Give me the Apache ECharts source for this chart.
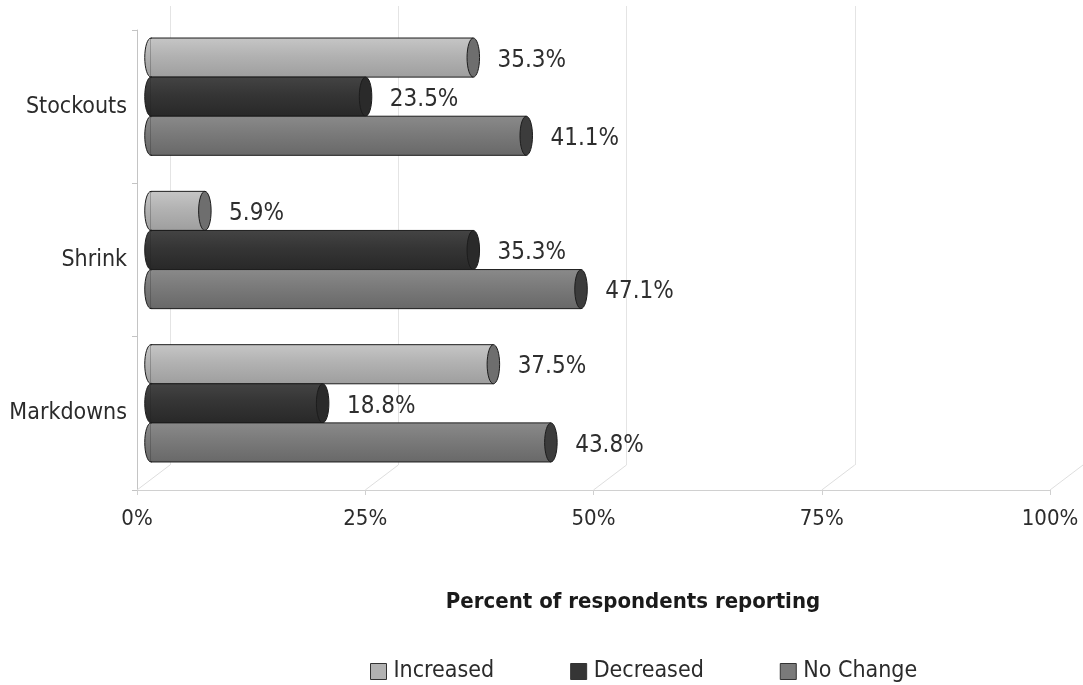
<!DOCTYPE html>
<html>
<head>
<meta charset="utf-8">
<script src="https://cdn.jsdelivr.net/npm/echarts@6/dist/echarts.min.js"></script>
<style>
  html, body { margin: 0; padding: 0; background: #fff; }
  #chart { width: 1083px; height: 685px; }
</style>
</head>
<body>
<div id="chart"></div>
<script>
// Survey categories (top to bottom)
const categories = ['Stockouts', 'Shrink', 'Markdowns'];
// Percent of respondents per answer
const increased = [35.3, 5.9, 37.5];
const decreased = [23.5, 35.3, 18.8];
const noChange = [41.1, 47.1, 43.8];
const seriesNames = ['Increased', 'Decreased', 'No Change'];
// Value axis ticks
const xTicks = [0, 25, 50, 75, 100];

const FONT = '"DejaVu Sans Condensed", "Liberation Sans Narrow", "DejaVu Sans", sans-serif';
const GAP = 0.235;          // share of each category band left empty
const DEPTH = [33, -25];    // floor diagonal, front to back wall

const looks = [
  { top: '#c6c6c6', mid: '#b2b2b2', bot: '#9e9e9e', cap: '#6e6e6e' },
  { top: '#444444', mid: '#353535', bot: '#282828', cap: '#2a2a2a' },
  { top: '#8a8a8a', mid: '#7a7a7a', bot: '#686868', cap: '#3c3c3c' }
];

function cylinder(idx) {
  const look = looks[idx];
  return function (params, api) {
    const v = api.value(0);
    const cat = api.value(1);
    const start = api.coord([0, cat]);
    const end = api.coord([v, cat]);
    const band = api.size([0, 1])[1];
    const h = band * (1 - GAP) / 3;
    const top = start[1] - band * (1 - GAP) / 2 + idx * h;
    const cy = top + h / 2;
    const rx = h * 0.16;
    const fill = new echarts.graphic.LinearGradient(0, 0, 0, 1, [
      { offset: 0, color: look.top },
      { offset: 0.45, color: look.mid },
      { offset: 1, color: look.bot }
    ]);
    const stroke = { stroke: '#1c1c1c', lineWidth: 1 };
    return {
      type: 'group',
      children: [
        { type: 'ellipse', shape: { cx: start[0], cy: cy, rx: rx, ry: h / 2 },
          style: Object.assign({ fill: fill }, stroke) },
        { type: 'rect', shape: { x: start[0], y: top, width: end[0] - start[0], height: h },
          style: Object.assign({ fill: fill }, stroke) },
        { type: 'rect', shape: { x: start[0] - 0.5, y: top + 1, width: 2, height: h - 2 },
          style: { fill: fill } },
        { type: 'ellipse', shape: { cx: end[0], cy: cy, rx: rx, ry: h / 2 },
          style: Object.assign({ fill: look.cap }, stroke) },
        { type: 'text', x: end[0] + rx + 18, y: cy + 3,
          style: { text: v.toFixed(1) + '%', fill: '#2e2e2e', font: '24px ' + FONT,
                   verticalAlign: 'middle', align: 'left' } }
      ]
    };
  };
}

const valueSets = [increased, decreased, noChange];
const barSeries = valueSets.map((vals, i) => ({
  name: seriesNames[i],
  type: 'custom',
  xAxisIndex: 2,
  yAxisIndex: 2,
  encode: { x: 0, y: 1 },
  itemStyle: { color: looks[i].mid, borderColor: '#222', borderWidth: 1 },
  renderItem: cylinder(i),
  data: vals.map((v, c) => [v, c]),
  z: 5 + i
}));

// Floor diagonals from each front tick back to the wall
const floorLines = {
  type: 'custom',
  xAxisIndex: 0,
  yAxisIndex: 0,
  silent: true,
  encode: { x: 0 },
  data: xTicks.map(t => [t, 0]),
  renderItem: function (params, api) {
    const cs = params.coordSys;
    const x = api.coord([api.value(0), 0])[0];
    const y = cs.y + cs.height;
    return {
      type: 'line',
      shape: { x1: x, y1: y, x2: x + DEPTH[0], y2: y + DEPTH[1] },
      style: { stroke: '#dedede', lineWidth: 1 }
    };
  },
  z: 1
};

const option = {
  backgroundColor: '#ffffff',
  animation: false,
  title: {
    text: 'Percent of respondents reporting',
    left: 628, top: 586, textAlign: 'center',
    textStyle: { fontFamily: FONT, fontSize: 22, fontWeight: 'bold', color: '#1a1a1a' }
  },
  legend: {
    data: seriesNames,
    top: 655, left: 365,
    itemWidth: 16, itemHeight: 16, itemGap: 76,
    icon: 'rect',
    itemStyle: { borderColor: '#333', borderWidth: 1 },
    textStyle: { fontFamily: FONT, fontSize: 23, color: '#2b2b2b', padding: [0, 0, 0, 2] }
  },
  grid: [
    { left: 137, top: 30, width: 913, height: 460 },   // front plane
    { left: 170, top: 6, width: 913, height: 459 },    // back wall
    { left: 151, top: 20, width: 913, height: 460 }    // bars
  ],
  xAxis: [
    { type: 'value', gridIndex: 0, min: 0, max: 100, interval: 25,
      axisLine: { show: true, lineStyle: { color: '#d0d0d0' } },
      axisTick: { show: true, length: 5, lineStyle: { color: '#d0d0d0' } },
      splitLine: { show: false },
      axisLabel: { formatter: '{value}%', margin: 18, color: '#2b2b2b',
                   fontFamily: FONT, fontSize: 22 } },
    { type: 'value', gridIndex: 1, min: 0, max: 100, interval: 25,
      axisLine: { show: false }, axisTick: { show: false }, axisLabel: { show: false },
      splitLine: { show: true, lineStyle: { color: '#e4e4e4' } } },
    { type: 'value', gridIndex: 2, min: 0, max: 100, show: false }
  ],
  yAxis: [
    { type: 'category', gridIndex: 0, data: categories, inverse: true,
      axisLine: { show: true, lineStyle: { color: '#c4c4c4' } },
      axisTick: { show: true, length: 5, lineStyle: { color: '#c4c4c4' } },
      axisLabel: { margin: 10, color: '#2b2b2b', fontFamily: FONT, fontSize: 23 } },
    { type: 'category', gridIndex: 1, data: categories, inverse: true, show: false },
    { type: 'category', gridIndex: 2, data: categories, inverse: true, show: false }
  ],
  series: [floorLines].concat(barSeries)
};

const chart = echarts.init(document.getElementById('chart'), null, { renderer: 'canvas' });
chart.setOption(option);
</script>
</body>
</html>
